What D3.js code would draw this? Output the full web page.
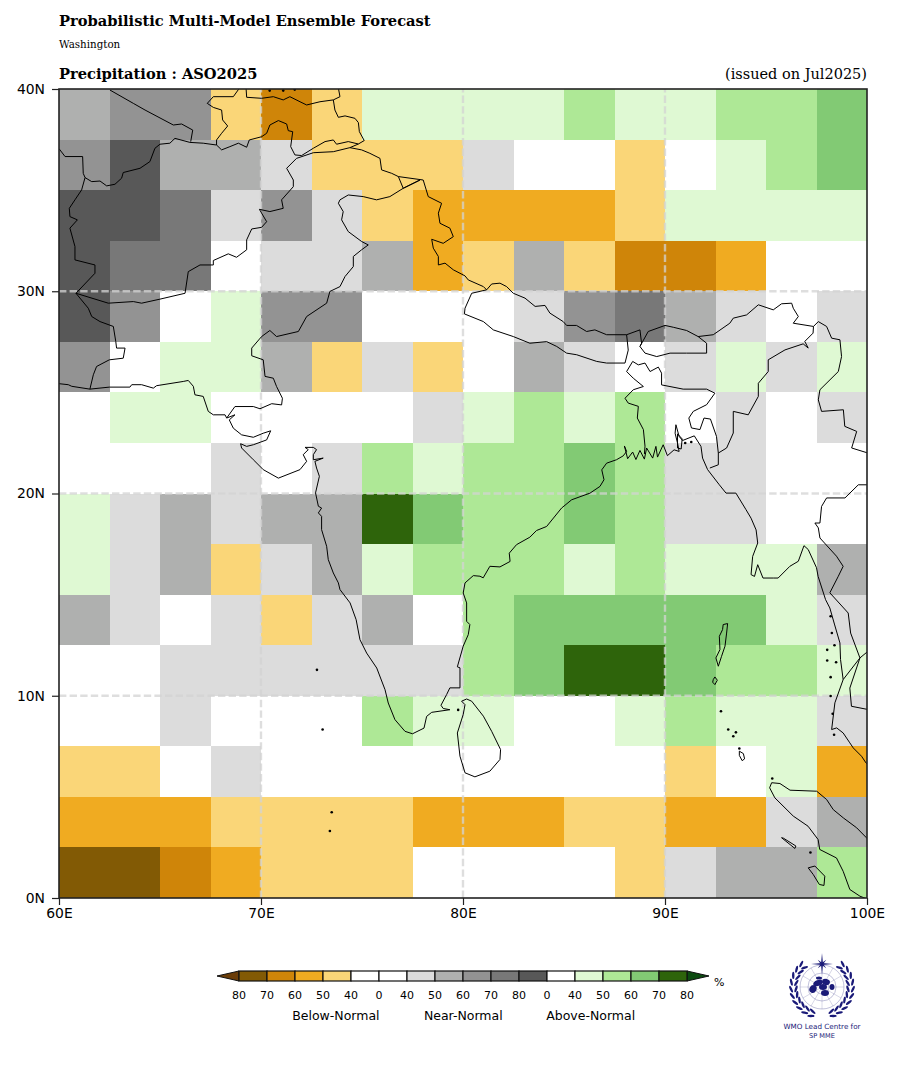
<!DOCTYPE html>
<html>
<head>
<meta charset="utf-8">
<title>Precipitation ASO2025</title>
<script src="https://cdn.jsdelivr.net/npm/d3@7"></script>
<style>
  html, body { margin: 0; padding: 0; background: #fff; }
  svg { display: block; }
</style>
</head>
<body>
<div id="chart"></div>
<script>
// probability classes, same order as the colour bar
var classCodes = ['B4','B3','B2','B1','W','N1','N2','N3','N4','N5','A1','A2','A3','A4'];
var classColors = ['#825a05','#cf8509','#f0ab21','#fad678','#ffffff','#dcdcdc','#afb0af','#939393','#787878','#585858','#dff9d3','#aee896','#82ca74','#2e640b'];

// western edge of each grid column, top edge of each grid row
var cellLons = [60,62.5,65,67.5,70,72.5,75,77.5,80,82.5,85,87.5,90,92.5,95,97.5];
var cellLats = [40,37.5,35,32.5,30,27.5,25,22.5,20,17.5,15,12.5,10,7.5,5,2.5];
var cellSize = 2.5;

var forecast = [
  ['N2','N3','N3','B1','B3','B1','A1','A1','A1','A1','A2','A1','A1','A2','A2','A3'],
  ['N3','N5','N2','N2','N1','B1','B1','B1','N1','W','W','B1','W','A1','A2','A3'],
  ['N5','N5','N4','N1','N3','N1','B1','B2','B2','B2','B2','B1','A1','A1','A1','A1'],
  ['N5','N4','N4','W','N1','N1','N2','B2','B1','N2','B1','B3','B3','B2','W','W'],
  ['N5','N3','W','A1','N3','N3','W','W','W','N1','N3','N4','N2','N1','W','N1'],
  ['N3','W','A1','A1','N2','B1','N1','B1','W','N2','N1','W','N1','A1','N1','A1'],
  ['W','A1','A1','W','W','W','W','N1','A1','A2','A1','A2','W','N1','W','N1'],
  ['W','W','W','N1','W','N1','A2','A1','A2','A2','A3','A2','N1','N1','W','W'],
  ['A1','N1','N2','N1','N2','N2','A4','A3','A2','A2','A3','A2','N1','N1','W','W'],
  ['A1','N1','N2','B1','N1','N2','A1','A2','A2','A2','A1','A2','A1','A1','A1','N2'],
  ['N2','N1','W','N1','B1','N1','N2','W','A2','A3','A3','A3','A3','A3','A1','N1'],
  ['W','W','N1','N1','N1','N1','N1','N1','A2','A3','A4','A4','A3','A2','A2','A1'],
  ['W','W','N1','W','W','W','A2','A1','A1','W','W','A1','A2','A1','A1','N1'],
  ['B1','B1','W','N1','W','W','W','W','W','W','W','W','B1','W','A1','B2'],
  ['B2','B2','B2','B1','B1','B1','B1','B2','B2','B2','B1','B1','B2','B2','N1','N2'],
  ['B4','B4','B3','B2','B1','B1','B1','W','W','W','W','B1','N1','N2','N2','A2']
];

var lonTicks = [60,70,80,90,100];
var latTicks = [0,10,20,30,40];
var gridLons = [70,80,90];
var gridLats = [10,20,30];

// colour bar: one entry per box, labels sit on the box edges
var barClasses = ['B4','B3','B2','B1','W','W','N1','N2','N3','N4','N5','W','A1','A2','A3','A4'];
var barLabels = ['80','70','60','50','40','0','40','50','60','70','80','0','40','50','60','70','80'];
var barGroups = ['Below-Normal','Near-Normal','Above-Normal'];

// coast and border lines, [lon, lat]
var coastMain = [
  [60,25.43],[60.46,25.38],[60.63,25.3],[61.53,25.16],[62.49,25.26],[63.51,25.26],[63.6,25.38],[64.09,25.38],[64.67,25.21],[64.83,25.33],
  [66.15,25.54],[66.4,25.59],[66.65,25.3],[66.73,24.88],[67.14,24.8],[67.39,24.06],[67.64,23.89],[68.22,23.89],[68.3,23.73],[68.71,23.89],
  [68.43,23.64],[68.63,23.23],[69.04,22.9],[69.62,22.78],[70.11,22.98],[70.48,23.1],[70.28,22.65],[69.62,22.41],[69.29,22.33],[68.99,22.46],
  [69.04,22.25],[69.62,21.67],[70.11,21.18],[70.86,20.76],[71.93,21.18],[72.26,21.59],[72.09,21.92],[72.34,22.17],[72.18,22.28],[72.59,22.28],
  [72.75,22.17],[72.59,21.92],[72.59,21.67],[73.08,21.75],[72.67,21.59],[72.75,21.26],[72.89,20.85],[72.7,20.03],[72.84,19.37],[73,19.28],
  [72.84,19.04],[73,18.87],[73,18.21],[73.25,17.39],[73.33,16.73],[73.58,16.07],[73.83,15.58],[73.91,15.25],[74.41,14.59],[74.71,13.76],
  [74.9,12.77],[75.23,12.11],[75.73,11.37],[76.14,10.3],[76.3,9.64],[76.63,8.82],[77.13,8.24],[77.5,8.12],[78.07,8.4],[78.2,8.98],
  [78.45,9.18],[79.35,9.31],[79.02,9.37],[78.91,9.53],[79.19,10.06],[79.35,10.39],[79.85,10.39],[79.85,11.38],[79.72,11.43],[80.01,12.45],
  [80.26,13.02],[80.34,13.52],[80.18,13.68],[80.18,14.59],[80.01,15.08],[80.1,15.58],[80.51,15.94],[80.84,15.91],[81,15.83],[81.33,16.4],
  [81.83,16.37],[82.33,16.64],[82.29,17.05],[82.65,17.47],[83.31,17.84],[83.64,18.17],[84.14,18.37],[84.88,19.28],[85.38,19.69],[86.29,20.02],
  [86.78,20.35],[86.98,20.68],[86.87,21.17],[87.11,21.5],[87.6,21.67],[87.93,21.86],[88.1,22.08],[87.99,22.35],[88.15,21.72],[88.4,22.05],
  [88.56,21.68],[88.76,22.13],[88.98,21.7],[89.09,22.25],[89.39,21.75],[89.55,22.33],[89.63,21.8],[89.91,22.41],[90.12,21.87],[90.45,22.16],
  [90.7,22.08],[90.62,22.49],[90.5,22.98],[90.54,23.4],[90.7,22.82],[90.87,22.62],[91.45,22.85],[91.78,22.33],[91.86,21.75],[92.11,21.18],
  [92.69,20.43],[93.02,20.02],[93.51,20.02],[94.01,19.2],[94.26,18.78],[94.51,18.2],[94.59,17.55],[94.34,16.89],[94.26,15.99],[94.43,15.9],
  [94.59,16.48],[94.85,15.82],[95.36,15.82],[95.6,15.82],[96.18,16.4],[96.6,16.65],[96.88,17.42],[97.09,17.23],[97.5,16.33],[97.58,15.9],
  [97.95,14.75],[98.16,14.34],[98.4,13.5],[98.66,12.61],[98.69,11.79],[98.82,10.8],[98.41,9.65],[98.25,8.33],[98.5,8.41],[98.82,8.16],
  [99.15,7.67],[99.32,7.42],[99.73,7.01],[99.95,6.68],[100.05,6.6]
];
var thaiGulf = [[100.05,12.2],[99.65,11.87],[99.15,10.38],[99.23,9.48],[100.05,9.32]];
var sumatra = [
  [95.28,5.7],[95.69,5.66],[96.19,5.33],[97.51,5.28],[98,4.87],[98.33,4.37],[98.83,3.96],[99.49,3.47],[100.05,2.9]
];
var sumatraWest = [
  [95.28,5.7],[95.18,5.45],[95.44,4.95],[96.35,4.05],[97.08,3.55],[97.58,2.89],[97.66,2.4],[98.49,1.98],[98.82,1.32],[99.15,0.42],[99.65,0.09],[100,-0.05]
];
var sriLanka = [
  [79.93,9.73],[80.18,9.84],[80.43,9.73],[81.01,8.99],[81.42,8.24],[81.86,7.34],[81.83,6.85],[81.33,6.27],[80.59,5.99],[80.1,6.19],[79.85,7.01],[79.72,8.16],[80.01,9.07],[80.1,9.56],[79.93,9.73]
];
var andaman = [
  [92.88,13.52],[93.1,13.57],[93.05,13.1],[92.97,12.45],[92.8,11.95],[92.64,11.46],[92.52,11.87],[92.72,12.28],[92.69,12.94],[92.85,13.27],[92.88,13.52]
];
var littleAndaman = [[92.39,10.8],[92.47,10.93],[92.59,10.77],[92.47,10.55],[92.36,10.67],[92.39,10.8]];
var greatNicobar = [[93.68,7.26],[93.88,7.14],[93.94,6.88],[93.82,6.79],[93.68,7.05],[93.68,7.26]];
var simeulue = [[95.77,2.98],[96.43,2.45],[96.48,2.57],[95.86,2.96],[95.77,2.98]];
var nias = [[97.09,1.49],[97.42,1.58],[97.91,1.08],[97.87,0.62],[97.64,0.67],[97.34,1.16],[97.09,1.49]];
var deltaIsland = [[90.62,22.95],[90.85,22.7],[90.8,22.2],[90.62,22.25],[90.62,22.95]];

var borderTurkmenUzbek = [[62.52,39.95],[63.68,39.29],[64.26,38.96],[65.66,38.22],[66.07,38.27],[66.62,37.97],[66.52,37.4]];
var borderAfghanNorth = [
  [60,37.05],[60.3,36.66],[61.17,36.66],[61.2,35.83],[61.29,35.62],[61.62,35.42],[62.03,35.45],[62.36,35.21],[62.77,35.29],[63.1,35.59],
  [63.18,35.87],[64.01,36.08],[64.5,36.41],[64.75,37.07],[65,37.27],[65.49,37.32],[65.74,37.56],[66.48,37.36],[67.14,37.32],[67.8,37.23],
  [68.05,36.99],[68.46,37.15],[68.88,37.32],[69.29,37.12],[69.42,37.48],[70.03,37.64],[70.28,37.81],[70.44,38.22],[70.86,38.44],[71.27,38.27],
  [71.35,37.94],[71.57,37.89],[71.47,37.15],[71.68,36.74],[72.01,36.71],[72.59,37.07],[73.17,37.4],[73.58,37.48],[73.74,37.27],[74.32,37.4],[74.82,37.28],[75.11,37.45]
];
var borderUzbekTajik = [[68.88,40.05],[68.88,39.97],[68.63,39.62],[67.64,39.62],[67.34,39.29],[67.64,39.09],[68.05,38.96],[68.1,38.47],[68.35,38.17],[68.05,37.81],[67.8,37.48],[67.8,37.23]];
var borderKyrgyzTajik = [[69.26,40.05],[69.29,39.59],[70.03,39.54],[70.61,39.62],[71.1,39.46],[71.43,39.62],[71.93,39.37],[72.26,39.21],[72.92,39.37],[73.58,39.46],[73.91,39.62],[73.83,40.05]];
var borderTajikChina = [[73.58,39.46],[73.66,38.96],[73.83,38.6],[74.16,38.67],[74.65,38.55],[74.82,38.34],[74.87,37.89],[75.11,37.45]];
var borderAfghanPak = [
  [74.82,37.28],[74.4,37.1],[73.58,36.9],[72.59,36.85],[71.76,36.57],[71.27,36.08],[71.6,35.5],[71.6,35.17],[71.02,34.52],[71.1,34.1],[70.44,33.94],
  [69.92,34.05],[70.28,33.44],[70.03,33.16],[69.54,33.08],[69.29,32.54],[69.29,32.05],[68.79,31.68],[68.38,31.85],[67.64,31.52],[67.64,31.3],
  [66.98,31.3],[66.4,30.97],[66.24,29.9],[65,29.61],[64.09,29.41],[63.68,29.49],[62.44,29.41],[60.84,29.9]
];
var borderIranAfghan = [[61.29,35.62],[61.12,35.01],[60.79,34.52],[60.51,34.1],[60.54,33.69],[60.91,33.53],[60.54,33.12],[60.79,32.21],[60.79,31.55],[61.78,31.3],[61.78,30.89],[60.84,29.9]];
var borderIranPak = [[60.84,29.9],[61.45,29.16],[61.62,28.75],[62.03,28.5],[62.69,28.26],[62.81,27.52],[62.85,27.19],[63.27,27.19],[63.18,26.69],[62.49,26.61],[61.86,26.28],[61.7,25.87],[61.53,25.16]];
var borderChinaIndia = [
  [74.4,37.1],[74.98,36.99],[75.39,36.82],[75.89,36.57],[75.97,36],[76.47,35.83],[76.8,35.67],[78.03,35.5],[78.28,34.68],[78.94,34.35],[78.78,33.86],[78.86,33.36],
  [79.35,33.12],[79.52,32.7],[79.02,32.37],[78.45,32.57],[78.53,32.13],[78.78,31.72],[78.78,31.3],[79.11,31.39],[79.52,31.06],[80.1,30.76],[80.26,30.56],[81.01,30.23],[81.17,30.07]
];
var borderKashmir = [[76.8,35.67],[77.04,35.09],[77.87,35.5],[77.04,35.09],[76.38,34.68],[75.72,34.52],[75.06,34.68],[74.32,34.76],[73.91,34.52]];
var borderIndiaPak = [
  [73.91,34.52],[73.83,34.35],[74.07,33.94],[73.99,33.53],[74.32,32.95],[74.98,32.46],[75.31,32.29],[74.98,32.05],[74.57,31.72],[74.57,31.22],[74.16,30.73],[73.91,30.23],
  [73.41,29.99],[73.25,29.41],[72.26,28.75],[71.85,28.01],[70.77,27.76],[70.44,28.06],[70.03,27.76],[69.54,27.19],[69.54,26.81],[70.11,26.61],[70.2,25.79],[70.61,25.7],
  [70.77,25.29],[71.06,24.71],[71.02,24.38],[70.53,24.44],[69.95,24.19],[69.62,24.3],[68.71,24.3],[68.3,23.73]
];
var borderNepal = [
  [81.17,30.07],[81.42,30.36],[81.83,30.4],[82.16,30.23],[82.49,29.9],[83.07,29.66],[83.57,29.25],[84.06,29.3],[84.3,28.92],[84.96,28.5],[85.13,28.31],[85.62,28.31],
  [86.12,28.01],[86.53,28.09],[87.11,27.85],[88.1,27.85],[88.18,27.09],[88.02,26.45],[87.11,26.45],[86.62,26.53],[85.63,26.86],[85.13,26.94],[84.64,27.27],[84.14,27.51],
  [83.31,27.43],[82.49,27.76],[81.5,28.09],[81.01,28.5],[80.07,28.88],[80.1,29.16],[80.43,29.9],[81.17,30.07]
];
var borderSikkim = [[88.1,27.85],[88.76,28.09],[88.84,27.43],[88.76,27.27]];
var borderBhutan = [
  [88.76,27.27],[89.17,28.01],[90,28.31],[90.41,28.22],[91.07,28.06],[91.64,27.76],[92.06,27.43],[92.06,26.94],[91.07,26.94],[90.25,26.94],[89.59,26.77],[89.01,26.94],[88.76,27.27]
];
var borderArunachal = [
  [91.64,27.76],[92.39,27.85],[93.21,28.42],[93.38,28.67],[94.04,28.83],[94.62,29.33],[95.36,29.08],[95.77,29.38],[96.27,29.41],[96.35,29.16],[96.6,28.75],[96.35,28.42],
  [97.35,28.26],[97.59,28.5],[98,28.26],[98.25,27.68],[98.66,27.6],[98.74,26.77],[98.58,26.03],[97.67,25.13],[97.59,24.63],[97.75,24.06],[98.83,24.14],[98.9,23.32],[99.49,23.07],[99.24,22.25],[100.05,22]
];
var borderIndiaMyanmar = [
  [97.35,28.26],[97.33,27.93],[96.92,27.52],[97.09,27.19],[96.84,27.4],[95.94,27.1],[95.11,26.61],[95.11,26.03],[94.62,25.45],[94.62,24.8],[94.12,23.89],[93.38,24.06],[93.38,22.99],[93.05,22.25],[92.64,22],[92.64,21.42],[92.22,21.26]
];
var borderBangladesh = [
  [88.98,21.95],[89.01,22.34],[88.93,23.16],[88.63,23.73],[88.68,24.31],[88.18,24.47],[88.02,24.71],[88.43,25.13],[88.93,25.29],[88.43,25.7],[88.1,26.03],[88.4,26.53],
  [88.68,26.36],[89.01,26.45],[89.26,26.03],[89.67,26.25],[89.83,25.95],[89.83,25.37],[90.9,25.16],[92.06,25.16],[92.47,24.96],[92.06,24.39],[91.4,24.06],[91.18,23.73],
  [91.31,23.24],[91.73,23.16],[91.93,23.73],[92.25,23.68],[92.55,22.82],[92.64,22]
];
var borderMyanmarThai = [
  [100.05,20.43],[99.57,20.43],[98.91,19.78],[98,19.78],[97.75,19.36],[97.67,18.54],[97.42,18.54],[97.59,18.3],[97.67,17.8],[98.49,16.9],[98.82,16.4],[98.58,15.91],[98.16,15.09],[99.07,14.09],[99.19,13.1],[99.65,11.87],[98.82,10.8]
];
var smallIslands = [
  [72.77,11.28],[73.05,8.33],[73.5,4.24],[73.41,3.31],[92.77,9.23],[93.13,8.33],[93.38,8],[93.51,8.19],[93.68,7.39],[95.31,5.91],
  [98.2,13.93],[98.26,13.1],[98.39,12.5],[98.03,12.27],[98.03,11.74],[98.47,11.66],[98.2,10.92],[98.2,9.99],[98.3,9.11],[98.37,8.07],
  [97.2,2.25],[70.43,39.92],[71.1,39.92],[71.67,39.97],[79.76,9.3],[91.0,22.5],[91.3,22.55]
];

var coastLines = [coastMain, thaiGulf, sumatra, sumatraWest, sriLanka, andaman, littleAndaman, greatNicobar, simeulue, nias, deltaIsland,
  borderTurkmenUzbek, borderAfghanNorth, borderUzbekTajik, borderKyrgyzTajik, borderTajikChina, borderAfghanPak, borderIranAfghan, borderIranPak,
  borderChinaIndia, borderKashmir, borderIndiaPak, borderNepal, borderSikkim, borderBhutan, borderArunachal, borderIndiaMyanmar, borderBangladesh, borderMyanmarThai];

var width = 900, height = 1070;
var serif = '"DejaVu Serif", serif';
var sans = '"DejaVu Sans", sans-serif';

var svg = d3.select('#chart').append('svg')
  .attr('width', width)
  .attr('height', height);

var x = d3.scaleLinear().domain([60, 100]).range([59, 867]);
var y = d3.scaleLinear().domain([0, 40]).range([898, 89]);
var classColor = d3.scaleOrdinal().domain(classCodes).range(classColors);

//Titles
function title(text, xPos, yPos, size, weight, anchor) {
  svg.append('text')
    .attr('x', xPos)
    .attr('y', yPos)
    .attr('text-anchor', anchor || 'start')
    .attr('font-family', serif)
    .attr('font-size', size)
    .attr('font-weight', weight)
    .attr('fill', '#000')
    .text(text);
}
title('Probabilistic Multi-Model Ensemble Forecast', 59, 26, 14.65, 'bold');
title('Washington', 59, 47.5, 10.3, 'normal');
title('Precipitation : ASO2025', 59, 79, 14.65, 'bold');
title('(issued on Jul2025)', 867, 79, 14.5, 'normal', 'end');

svg.append('clipPath').attr('id', 'map-clip')
  .append('rect')
  .attr('x', x(60)).attr('y', y(40))
  .attr('width', x(100) - x(60)).attr('height', y(0) - y(40));

var map = svg.append('g').attr('clip-path', 'url(#map-clip)');

//Draw cells
var cells = [];
forecast.forEach(function (row, r) {
  row.forEach(function (code, c) {
    cells.push({ lon: cellLons[c], lat: cellLats[r], code: code });
  });
});
map.selectAll('.cell')
  .data(cells)
  .enter()
  .append('rect')
  .classed('cell', 1)
  .attr('x', function (d) { return x(d.lon); })
  .attr('y', function (d) { return y(d.lat); })
  .attr('width', function (d) { return x(d.lon + cellSize) - x(d.lon); })
  .attr('height', function (d) { return y(d.lat - cellSize) - y(d.lat); })
  .attr('shape-rendering', 'crispEdges')
  .attr('fill', function (d) { return classColor(d.code); });

//Draw grid
var gridDash = '7.4,3.2';
map.selectAll('.grid-lon')
  .data(gridLons)
  .enter()
  .append('line')
  .classed('grid-lon', 1)
  .attr('x1', x).attr('x2', x)
  .attr('y1', y(0)).attr('y2', y(40));
map.selectAll('.grid-lat')
  .data(gridLats)
  .enter()
  .append('line')
  .classed('grid-lat', 1)
  .attr('y1', y).attr('y2', y)
  .attr('x1', x(60)).attr('x2', x(100));
map.selectAll('.grid-lon, .grid-lat')
  .attr('stroke', '#d3d3d3')
  .attr('stroke-opacity', 0.75)
  .attr('stroke-width', 2.4)
  .attr('stroke-dasharray', gridDash);

//Draw coast
var coastPath = d3.line()
  .x(function (d) { return x(d[0]); })
  .y(function (d) { return y(d[1]); });
map.selectAll('.coast')
  .data(coastLines)
  .enter()
  .append('path')
  .classed('coast', 1)
  .attr('d', coastPath)
  .attr('fill', 'none')
  .attr('stroke', '#000')
  .attr('stroke-width', 1)
  .attr('stroke-linejoin', 'round');
map.selectAll('.island')
  .data(smallIslands)
  .enter()
  .append('circle')
  .classed('island', 1)
  .attr('cx', function (d) { return x(d[0]); })
  .attr('cy', function (d) { return y(d[1]); })
  .attr('r', 1.3)
  .attr('fill', '#000');

//Axes
var xAxis = d3.axisBottom(x)
  .tickValues(lonTicks)
  .tickSize(7)
  .tickPadding(3)
  .tickFormat(function (d) { return d + 'E'; });
var yAxis = d3.axisLeft(y)
  .tickValues(latTicks)
  .tickSize(7)
  .tickPadding(7)
  .tickFormat(function (d) { return d + 'N'; });
svg.append('g').attr('transform', 'translate(0,898)').call(xAxis);
svg.append('g').attr('transform', 'translate(59,0)').call(yAxis);
svg.selectAll('.domain').remove();
svg.selectAll('.tick line').attr('stroke', '#222').attr('stroke-width', 1.2);
svg.selectAll('.tick text')
  .attr('font-family', sans)
  .attr('font-size', 13.9)
  .attr('fill', '#000');

svg.append('rect')
  .attr('x', x(60)).attr('y', y(40))
  .attr('width', x(100) - x(60)).attr('height', y(0) - y(40))
  .attr('fill', 'none')
  .attr('stroke', '#222')
  .attr('stroke-width', 1.6);

//Colour bar
var barX = d3.scaleLinear().domain([0, barClasses.length]).range([239, 687]);
var barTop = 971, barBottom = 981;
var bar = svg.append('g');
bar.append('path')
  .attr('d', 'M' + barX(0) + ',' + barTop + 'L' + (barX(0) - 22) + ',976L' + barX(0) + ',' + barBottom + 'Z')
  .attr('fill', '#6b3d08').attr('stroke', '#111').attr('stroke-width', 1);
bar.append('path')
  .attr('d', 'M' + barX(16) + ',' + barTop + 'L' + (barX(16) + 22) + ',976L' + barX(16) + ',' + barBottom + 'Z')
  .attr('fill', '#0c4a10').attr('stroke', '#111').attr('stroke-width', 1);
bar.selectAll('.box')
  .data(barClasses)
  .enter()
  .append('rect')
  .classed('box', 1)
  .attr('x', function (d, i) { return barX(i); })
  .attr('y', barTop)
  .attr('width', barX(1) - barX(0))
  .attr('height', barBottom - barTop)
  .attr('fill', function (d) { return classColor(d); })
  .attr('stroke', '#111')
  .attr('stroke-width', 1.2);
bar.selectAll('.box-label')
  .data(barLabels)
  .enter()
  .append('text')
  .classed('box-label', 1)
  .attr('x', function (d, i) { return barX(i); })
  .attr('y', 999)
  .attr('text-anchor', 'middle')
  .attr('font-family', sans)
  .attr('font-size', 11)
  .attr('fill', '#000')
  .text(function (d) { return d; });
bar.selectAll('.box-group')
  .data(barGroups)
  .enter()
  .append('text')
  .classed('box-group', 1)
  .attr('x', function (d, i) { return barX(3.46 + i * 4.55); })
  .attr('y', 1020)
  .attr('text-anchor', 'middle')
  .attr('font-family', sans)
  .attr('font-size', 12.5)
  .attr('fill', '#000')
  .text(function (d) { return d; });
bar.append('text')
  .attr('x', 714).attr('y', 986)
  .attr('font-family', sans).attr('font-size', 11)
  .attr('fill', '#000')
  .text('%');

//WMO emblem, roughly
var navy = '#1a1a78';
var logo = svg.append('g').attr('transform', 'translate(822,987)');
[22, 14, 7].forEach(function (r) {
  logo.append('circle').attr('r', r)
    .attr('fill', 'none').attr('stroke', navy)
    .attr('stroke-width', 0.6).attr('stroke-opacity', 0.45);
});
d3.range(0, 180, 30).forEach(function (a) {
  logo.append('line')
    .attr('x1', -22).attr('x2', 22)
    .attr('transform', 'rotate(' + a + ')')
    .attr('stroke', navy).attr('stroke-width', 0.4).attr('stroke-opacity', 0.4);
});
logo.selectAll('.land')
  .data([[-4,-4,5,3,-20],[4,-5,4,3,15],[-9,2,3.5,4,30],[1,0,4,3,0],[3,6,4,3,0],[10,0,2.5,3,0],[-3,-9,3,1.5,0]])
  .enter().append('ellipse')
  .attr('cx', function (d) { return d[0]; })
  .attr('cy', function (d) { return d[1]; })
  .attr('rx', function (d) { return d[2]; })
  .attr('ry', function (d) { return d[3]; })
  .attr('transform', function (d) { return 'rotate(' + d[4] + ' ' + d[0] + ' ' + d[1] + ')'; })
  .attr('fill', navy);
[-1, 1].forEach(function (side) {
  d3.range(-48, 78, 13).forEach(function (a) {
    var rad = a * Math.PI / 180;
    [[26, -22], [31, 22]].forEach(function (leaf) {
      var cx = side * leaf[0] * Math.cos(rad), cy = leaf[0] * Math.sin(rad);
      logo.append('ellipse')
        .attr('cx', cx).attr('cy', cy)
        .attr('rx', 1.2).attr('ry', 3.6)
        .attr('transform', 'rotate(' + (side * (a + leaf[1])) + ' ' + cx + ' ' + cy + ')')
        .attr('fill', navy);
    });
  });
});
d3.range(0, 360, 45).forEach(function (a) {
  logo.append('path')
    .attr('d', 'M-1,0L0,' + (a % 90 === 0 ? -11 : -6) + 'L1,0Z')
    .attr('transform', 'translate(0,-23) rotate(' + a + ')')
    .attr('fill', navy);
});
svg.append('text').attr('x', 822).attr('y', 1028.5)
  .attr('text-anchor', 'middle').attr('font-family', sans).attr('font-size', 7.2)
  .attr('fill', navy).text('WMO Lead Centre for');
svg.append('text').attr('x', 822).attr('y', 1038)
  .attr('text-anchor', 'middle').attr('font-family', sans).attr('font-size', 6.6)
  .attr('fill', navy).text('SP MME');
</script>
</body>
</html>
